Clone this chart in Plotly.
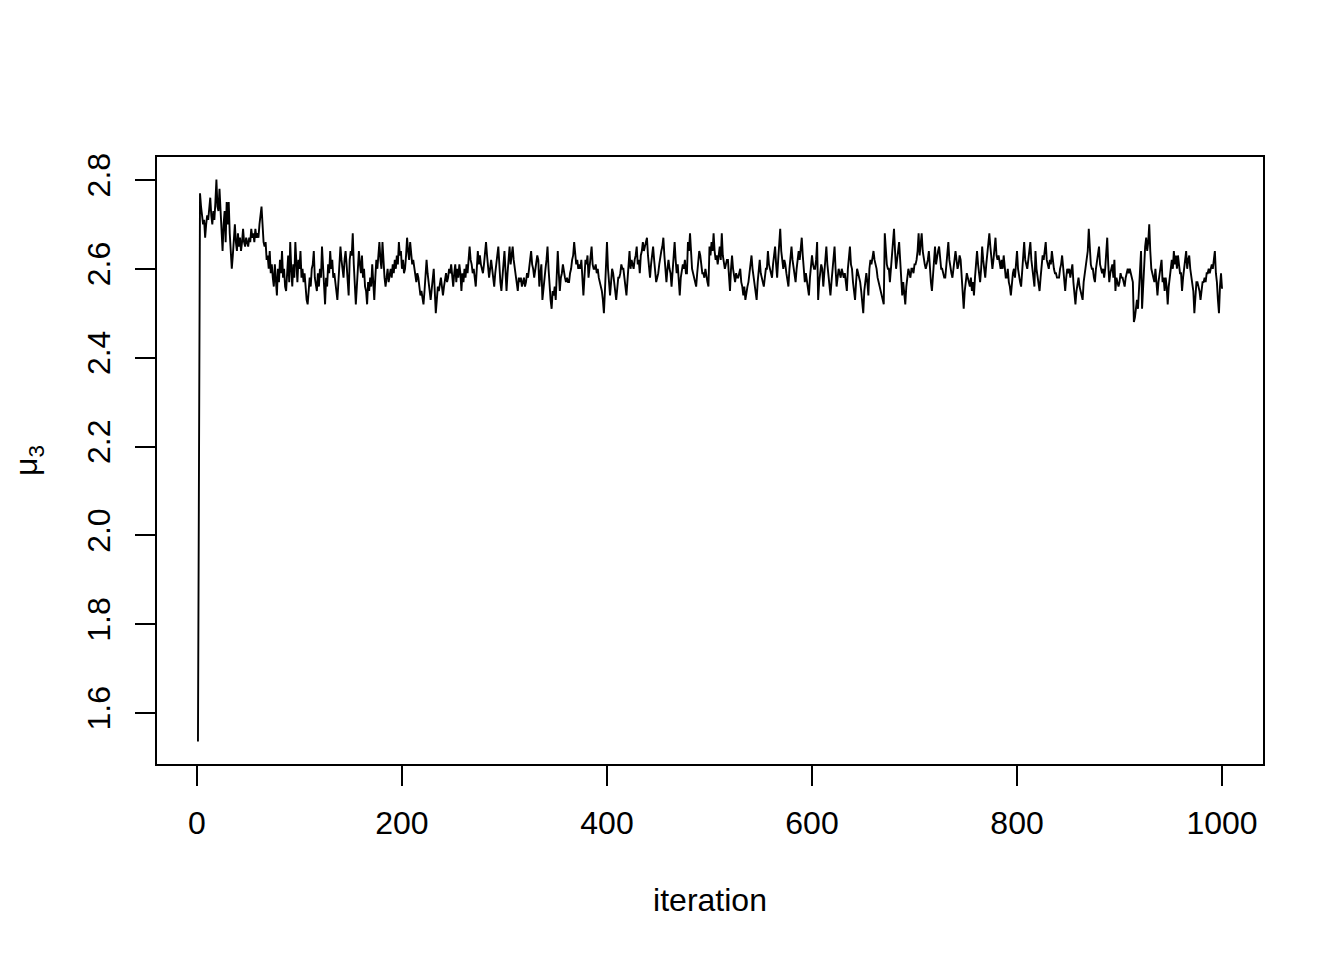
import plotly.graph_objects as go

# MCMC trace of mu_3 (iterations 1..1000)
mu3 = [
    1.536, 2.43, 2.77, 2.74, 2.72, 2.70, 2.71, 2.67, 2.70, 2.72, 2.71, 2.74, 2.76, 2.72, 2.70, 2.73, 2.71, 2.75, 2.801, 2.74, 2.73, 2.78, 2.72, 2.68, 2.64,
    2.70, 2.73, 2.66, 2.75, 2.70, 2.75, 2.68, 2.64, 2.60, 2.63, 2.67, 2.70, 2.66, 2.64, 2.68, 2.65, 2.67, 2.64, 2.66, 2.69, 2.66, 2.65, 2.67, 2.66, 2.65,
    2.67, 2.66, 2.69, 2.67, 2.68, 2.66, 2.69, 2.67, 2.68, 2.67, 2.70, 2.72, 2.74, 2.70, 2.66, 2.65, 2.66, 2.62, 2.63, 2.60, 2.64, 2.59, 2.61, 2.58, 2.56,
    2.61, 2.58, 2.54, 2.60, 2.57, 2.62, 2.59, 2.64, 2.58, 2.60, 2.56, 2.55, 2.61, 2.63, 2.57, 2.66, 2.60, 2.56, 2.61, 2.58, 2.66, 2.59, 2.57, 2.62, 2.60,
    2.64, 2.58, 2.60, 2.57, 2.59, 2.55, 2.53, 2.52, 2.56, 2.58, 2.56, 2.60, 2.61, 2.64, 2.58, 2.56, 2.55, 2.59, 2.56, 2.60, 2.58, 2.65, 2.60, 2.57, 2.52,
    2.58, 2.56, 2.61, 2.59, 2.64, 2.60, 2.62, 2.58, 2.59, 2.56, 2.55, 2.53, 2.58, 2.61, 2.65, 2.62, 2.60, 2.58, 2.62, 2.64, 2.61, 2.57, 2.54, 2.62, 2.64,
    2.63, 2.68, 2.61, 2.57, 2.52, 2.56, 2.60, 2.64, 2.61, 2.59, 2.63, 2.58, 2.60, 2.56, 2.55, 2.52, 2.57, 2.55, 2.58, 2.56, 2.61, 2.57, 2.53, 2.58, 2.62,
    2.60, 2.63, 2.66, 2.62, 2.60, 2.66, 2.61, 2.58, 2.56, 2.58, 2.60, 2.57, 2.59, 2.60, 2.58, 2.61, 2.59, 2.62, 2.60, 2.63, 2.61, 2.66, 2.63, 2.64, 2.60,
    2.62, 2.59, 2.60, 2.63, 2.67, 2.64, 2.62, 2.66, 2.63, 2.61, 2.62, 2.60, 2.59, 2.57, 2.59, 2.58, 2.56, 2.54, 2.55, 2.53, 2.52, 2.55, 2.58, 2.62, 2.59,
    2.56, 2.55, 2.53, 2.56, 2.58, 2.60, 2.55, 2.50, 2.53, 2.56, 2.55, 2.57, 2.58, 2.56, 2.54, 2.56, 2.58, 2.59, 2.57, 2.58, 2.60, 2.59, 2.61, 2.58, 2.56,
    2.59, 2.61, 2.57, 2.60, 2.58, 2.61, 2.59, 2.55, 2.59, 2.57, 2.60, 2.58, 2.61, 2.59, 2.62, 2.65, 2.62, 2.61, 2.59, 2.60, 2.58, 2.56, 2.60, 2.64, 2.61,
    2.63, 2.61, 2.60, 2.59, 2.61, 2.63, 2.66, 2.63, 2.61, 2.58, 2.60, 2.62, 2.60, 2.58, 2.56, 2.59, 2.62, 2.63, 2.65, 2.60, 2.57, 2.55, 2.59, 2.61, 2.64,
    2.60, 2.55, 2.59, 2.62, 2.65, 2.61, 2.63, 2.65, 2.62, 2.60, 2.58, 2.57, 2.55, 2.58, 2.57, 2.58, 2.56, 2.57, 2.58, 2.56, 2.57, 2.59, 2.58, 2.60, 2.62,
    2.64, 2.61, 2.60, 2.58, 2.60, 2.61, 2.63, 2.62, 2.56, 2.59, 2.61, 2.53, 2.56, 2.58, 2.60, 2.62, 2.65, 2.60, 2.56, 2.53, 2.51, 2.55, 2.54, 2.56, 2.53,
    2.58, 2.64, 2.59, 2.55, 2.58, 2.59, 2.61, 2.59, 2.58, 2.57, 2.58, 2.57, 2.57, 2.59, 2.60, 2.62, 2.63, 2.66, 2.63, 2.61, 2.62, 2.60, 2.61, 2.60, 2.62,
    2.58, 2.54, 2.58, 2.62, 2.61, 2.63, 2.58, 2.60, 2.63, 2.65, 2.61, 2.60, 2.60, 2.61, 2.59, 2.60, 2.58, 2.57, 2.56, 2.55, 2.53, 2.50, 2.55, 2.61, 2.66,
    2.60, 2.57, 2.54, 2.57, 2.60, 2.59, 2.56, 2.55, 2.53, 2.56, 2.58, 2.58, 2.59, 2.61, 2.60, 2.60, 2.57, 2.56, 2.54, 2.58, 2.62, 2.64, 2.60, 2.62, 2.61,
    2.60, 2.62, 2.63, 2.65, 2.61, 2.62, 2.59, 2.63, 2.64, 2.66, 2.64, 2.65, 2.66, 2.67, 2.63, 2.60, 2.58, 2.61, 2.63, 2.65, 2.62, 2.60, 2.57, 2.58, 2.59,
    2.61, 2.63, 2.64, 2.65, 2.67, 2.63, 2.60, 2.57, 2.60, 2.62, 2.60, 2.59, 2.56, 2.60, 2.63, 2.66, 2.62, 2.59, 2.61, 2.57, 2.54, 2.58, 2.60, 2.61, 2.60,
    2.62, 2.59, 2.59, 2.66, 2.64, 2.68, 2.62, 2.60, 2.59, 2.58, 2.57, 2.56, 2.59, 2.62, 2.64, 2.63, 2.60, 2.59, 2.59, 2.58, 2.60, 2.58, 2.57, 2.56, 2.65,
    2.63, 2.66, 2.64, 2.68, 2.64, 2.62, 2.63, 2.61, 2.63, 2.65, 2.62, 2.68, 2.63, 2.61, 2.60, 2.61, 2.62, 2.62, 2.58, 2.55, 2.60, 2.63, 2.60, 2.58, 2.57,
    2.59, 2.58, 2.58, 2.59, 2.60, 2.57, 2.56, 2.54, 2.56, 2.53, 2.55, 2.56, 2.57, 2.59, 2.61, 2.63, 2.60, 2.58, 2.57, 2.55, 2.53, 2.57, 2.60, 2.62, 2.59,
    2.58, 2.57, 2.56, 2.58, 2.60, 2.60, 2.64, 2.61, 2.60, 2.59, 2.58, 2.61, 2.63, 2.65, 2.61, 2.58, 2.62, 2.65, 2.69, 2.64, 2.61, 2.60, 2.62, 2.61, 2.59,
    2.57, 2.56, 2.60, 2.62, 2.65, 2.62, 2.60, 2.58, 2.57, 2.60, 2.62, 2.64, 2.62, 2.65, 2.67, 2.63, 2.60, 2.57, 2.59, 2.57, 2.55, 2.54, 2.58, 2.61, 2.63,
    2.61, 2.60, 2.60, 2.62, 2.66, 2.53, 2.57, 2.60, 2.61, 2.60, 2.56, 2.59, 2.62, 2.65, 2.61, 2.58, 2.56, 2.54, 2.57, 2.60, 2.62, 2.65, 2.60, 2.56, 2.58,
    2.60, 2.59, 2.58, 2.60, 2.59, 2.58, 2.59, 2.57, 2.55, 2.60, 2.62, 2.65, 2.61, 2.60, 2.57, 2.55, 2.53, 2.57, 2.60, 2.59, 2.58, 2.57, 2.55, 2.53, 2.50,
    2.55, 2.58, 2.59, 2.57, 2.54, 2.60, 2.62, 2.61, 2.63, 2.64, 2.62, 2.61, 2.60, 2.58, 2.57, 2.56, 2.55, 2.54, 2.53, 2.52, 2.68, 2.63, 2.61, 2.60, 2.60,
    2.57, 2.60, 2.63, 2.66, 2.69, 2.64, 2.60, 2.62, 2.64, 2.66, 2.62, 2.58, 2.54, 2.57, 2.55, 2.52, 2.56, 2.58, 2.60, 2.59, 2.58, 2.60, 2.60, 2.59, 2.61,
    2.61, 2.62, 2.64, 2.68, 2.63, 2.65, 2.68, 2.64, 2.62, 2.61, 2.60, 2.61, 2.62, 2.64, 2.60, 2.57, 2.55, 2.59, 2.62, 2.65, 2.61, 2.63, 2.64, 2.65, 2.62,
    2.60, 2.60, 2.59, 2.58, 2.58, 2.61, 2.63, 2.66, 2.62, 2.60, 2.59, 2.58, 2.61, 2.62, 2.64, 2.62, 2.60, 2.61, 2.63, 2.62, 2.59, 2.55, 2.51, 2.55, 2.57,
    2.59, 2.58, 2.57, 2.56, 2.58, 2.55, 2.57, 2.54, 2.58, 2.61, 2.64, 2.61, 2.59, 2.57, 2.60, 2.65, 2.62, 2.60, 2.58, 2.61, 2.64, 2.66, 2.68, 2.65, 2.62,
    2.60, 2.62, 2.64, 2.67, 2.63, 2.62, 2.63, 2.61, 2.60, 2.62, 2.60, 2.63, 2.60, 2.58, 2.58, 2.60, 2.57, 2.56, 2.54, 2.57, 2.59, 2.60, 2.58, 2.61, 2.64,
    2.60, 2.58, 2.57, 2.56, 2.60, 2.63, 2.66, 2.62, 2.61, 2.60, 2.62, 2.64, 2.66, 2.62, 2.59, 2.58, 2.56, 2.64, 2.60, 2.58, 2.57, 2.55, 2.58, 2.61, 2.63,
    2.62, 2.64, 2.66, 2.62, 2.61, 2.60, 2.62, 2.61, 2.64, 2.61, 2.60, 2.59, 2.59, 2.58, 2.58, 2.58, 2.60, 2.61, 2.63, 2.60, 2.57, 2.55, 2.58, 2.60, 2.59,
    2.60, 2.58, 2.60, 2.61, 2.57, 2.55, 2.52, 2.55, 2.57, 2.58, 2.56, 2.55, 2.54, 2.53, 2.57, 2.59, 2.60, 2.62, 2.64, 2.69, 2.64, 2.61, 2.60, 2.60, 2.58,
    2.57, 2.60, 2.62, 2.63, 2.65, 2.61, 2.60, 2.59, 2.60, 2.58, 2.60, 2.63, 2.67, 2.61, 2.57, 2.59, 2.60, 2.61, 2.58, 2.62, 2.55, 2.58, 2.57, 2.56, 2.57,
    2.59, 2.58, 2.58, 2.57, 2.56, 2.58, 2.59, 2.60, 2.59, 2.60, 2.59, 2.58, 2.57, 2.48, 2.49, 2.51, 2.53, 2.51, 2.56, 2.60, 2.64, 2.51, 2.57, 2.62, 2.65,
    2.67, 2.64, 2.66, 2.70, 2.64, 2.60, 2.59, 2.58, 2.57, 2.60, 2.56, 2.54, 2.57, 2.59, 2.60, 2.62, 2.57, 2.58, 2.55, 2.58, 2.56, 2.52, 2.56, 2.58, 2.60,
    2.62, 2.60, 2.64, 2.61, 2.63, 2.60, 2.63, 2.61, 2.59, 2.59, 2.55, 2.58, 2.61, 2.62, 2.64, 2.60, 2.62, 2.63, 2.60, 2.58, 2.57, 2.55, 2.50, 2.53, 2.57,
    2.57, 2.56, 2.55, 2.53, 2.56, 2.57, 2.57, 2.58, 2.57, 2.59, 2.59, 2.60, 2.59, 2.60, 2.61, 2.60, 2.62, 2.64, 2.59, 2.57, 2.53, 2.50, 2.56, 2.59, 2.555,
]
iterations = list(range(1, len(mu3) + 1))

x_ticks = [0, 200, 400, 600, 800, 1000]
y_ticks = [1.6, 1.8, 2.0, 2.2, 2.4, 2.6, 2.8]

# R-style 4% axis padding
def padded(lo, hi):
    d = (hi - lo) * 0.04
    return [lo - d, hi + d]

x_range = padded(min(iterations), max(iterations))
y_range = padded(min(mu3), max(mu3))

FONT = "Liberation Sans, Arial, Helvetica, sans-serif"
FS = 32

fig = go.Figure()
fig.add_trace(go.Scatter(
    x=iterations, y=mu3, mode="lines",
    line=dict(color="black", width=1.9),
    showlegend=False, hoverinfo="skip",
))

axis_common = dict(
    showgrid=False, zeroline=False, automargin=False,
    showline=True, linecolor="black", linewidth=1.8, mirror=True,
    ticks="outside", ticklen=20, tickwidth=1.8, tickcolor="black",
    tickfont=dict(family=FONT, size=FS, color="black"),
)

fig.update_layout(
    width=1344, height=960,
    margin=dict(l=149, r=89, t=149, b=204),
    paper_bgcolor="white", plot_bgcolor="white",
    font=dict(family=FONT, size=FS, color="black"),
    xaxis=dict(
        range=x_range, tickmode="array", tickvals=x_ticks,
        ticktext=[str(v) for v in x_ticks],
        ticklabelstandoff=10,
        title=dict(text="iteration", font=dict(family=FONT, size=FS, color="black"), standoff=48),
        **axis_common,
    ),
    yaxis=dict(
        range=y_range, tickmode="array", tickvals=y_ticks,
        ticktext=[f"{v:.1f}" for v in y_ticks], tickangle=-90,
        ticklabelstandoff=12,
        title=dict(text="μ<sub>3</sub>", font=dict(family=FONT, size=FS, color="black"), standoff=46),
        **axis_common,
    ),
)

fig.write_html("out.html")
